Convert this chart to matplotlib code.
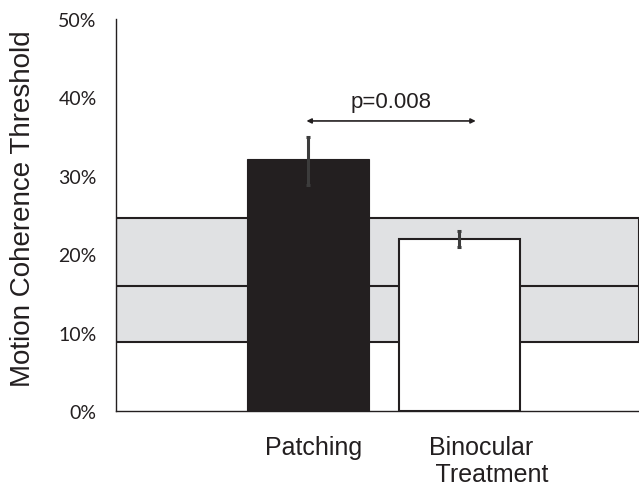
import numpy as np
import matplotlib.pyplot as plt

# data (percent)
groups = ["Patching", "Binocular\n Treatment"]
means = [32.1, 22.0]
err_low = [28.8, 20.9]
err_high = [35.0, 23.0]
norm_low, norm_mid, norm_high = 8.8, 15.9, 24.6
p_text = "p=0.008"
yticks = [0, 10, 20, 30, 40, 50]

dark = "#231f20"
band_col = "#e0e1e3"

fig = plt.figure(figsize=(6.39, 4.89), dpi=100)
ax = fig.add_axes([0.1815, 0.1575, 0.8185, 0.8015])

x = np.array([1.0, 2.0])

# normal range band
ax.axhspan(norm_low, norm_high, facecolor=band_col, edgecolor=dark, lw=1.5, zorder=1)
ax.axhline(norm_mid, color=dark, lw=1.5, zorder=1.5)

# bars
ax.bar(x[0], means[0], width=0.81, color=dark, edgecolor=dark, lw=0.8, zorder=2)
ax.bar(x[1], means[1], width=0.80, color="white", edgecolor=dark, lw=1.5, zorder=2)

yerr = np.array([[m - lo for m, lo in zip(means, err_low)],
                 [hi - m for m, hi in zip(means, err_high)]])
ax.errorbar(x, means, yerr=yerr, fmt="none", ecolor="#3c3c3c",
            elinewidth=2.2, capsize=1.5, capthick=2.2, zorder=3)

# significance arrow
ax.annotate("", xy=(2.11, 37.0), xytext=(0.99, 37.0),
            arrowprops=dict(arrowstyle="<|-|>", color=dark, lw=1.2,
                            mutation_scale=7, shrinkA=0, shrinkB=0))
ax.text(1.55, 38.1, p_text, ha="center", va="bottom",
        fontsize=16, family="Liberation Sans", color=dark)

ax.set_xlim(-0.27, 3.19)
ax.set_ylim(0, 50)
ax.set_yticks(yticks)
ax.set_yticklabels([f"{t}%" for t in yticks], family="Lato", fontsize=14, color=dark)
ax.tick_params(axis="y", length=0, pad=14)
ax.set_xticks([])

for s in ["top", "right"]:
    ax.spines[s].set_visible(False)
for s in ["left", "bottom"]:
    ax.spines[s].set_color(dark)
    ax.spines[s].set_linewidth(1.0)

# category labels
ax.text(1.04, -3.1, groups[0], ha="center", va="top", fontsize=18,
        family="Liberation Sans", color=dark)
ax.text(1.80, -3.1, groups[1], ha="left", va="top", fontsize=18,
        family="Liberation Sans", color=dark, linespacing=1.12)

fig.text(0.036, 0.573, "Motion Coherence Threshold", rotation=90,
         ha="center", va="center", fontsize=20, family="Liberation Sans", color=dark)

fig.savefig("out.png", dpi=100)
